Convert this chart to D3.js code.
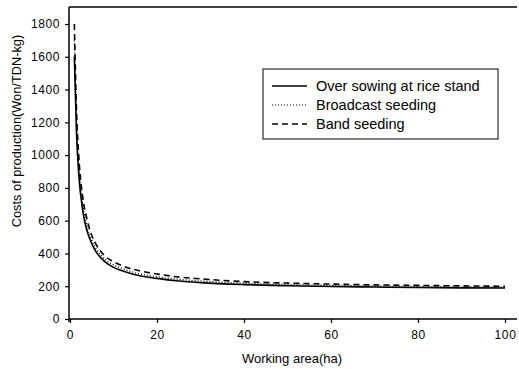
<!DOCTYPE html>
<html>
<head>
<meta charset="utf-8">
<script src="https://cdn.jsdelivr.net/npm/d3@7"></script>
<style>
  body { margin: 0; background: #fff; }
  text { font-family: "Liberation Sans", Arial, sans-serif; fill: #000; }
</style>
</head>
<body>
<div id="chart"></div>
<script>
// Values
const area = [1, 1.5, 2, 3, 4, 5, 6, 8, 10, 12, 15, 20, 25, 30, 40, 50, 60, 70, 80, 90, 100];
const overSowing = [1600, 1130, 890, 650, 530, 460, 410, 350, 315, 295, 270, 248, 232, 222, 210, 203, 198, 195, 192, 190, 189];
const broadcast  = [1700, 1200, 940, 690, 560, 480, 430, 365, 330, 308, 282, 258, 242, 232, 218, 210, 205, 201, 198, 196, 195];
const band       = [1800, 1270, 1000, 730, 600, 510, 455, 385, 350, 325, 300, 275, 256, 245, 228, 219, 213, 208, 205, 202, 200];
const seriesNames = ['Over sowing at rice stand', 'Broadcast seeding', 'Band seeding'];
const dashes = [null, '1,2', '6,4'];
const xTicks = [0, 20, 40, 60, 80, 100];
const yTicks = [0, 200, 400, 600, 800, 1000, 1200, 1400, 1600, 1800];

const width = 519, height = 369;
const svg = d3.select('#chart').append('svg')
  .attr('width', width).attr('height', height);

const x = d3.scaleLinear().domain([0, 100]).range([70, 505]);
const y = d3.scaleLinear().domain([0, 1800]).range([319, 24]);
const plotTop = 7, plotLeft = 69;

// frame top line
svg.append('line')
  .attr('x1', plotLeft).attr('x2', 517)
  .attr('y1', plotTop).attr('y2', plotTop)
  .attr('stroke', '#000').attr('stroke-width', 1.5);

// x axis
const gx = svg.append('g')
  .attr('transform', `translate(0,${y(0)})`)
  .call(d3.axisBottom(x).tickValues(xTicks).tickFormat(d3.format('d')).tickSize(4).tickPadding(7));
gx.select('.domain').attr('d', `M${plotLeft},0H517`).attr('stroke-width', 1.5);
gx.selectAll('.tick line').attr('stroke-width', 1.2);
gx.selectAll('text').attr('font-size', 12).attr('letter-spacing', 0.6);

// y axis
const gy = svg.append('g')
  .attr('transform', `translate(${plotLeft},0)`)
  .call(d3.axisLeft(y).tickValues(yTicks).tickFormat(d3.format('d')).tickSize(4).tickPadding(5));
gy.select('.domain').attr('d', `M0,${plotTop}V${y(0) + 3}`).attr('stroke-width', 1.5);
gy.selectAll('.tick line').attr('stroke-width', 1.2);
gy.selectAll('text').attr('font-size', 12).attr('letter-spacing', 0.6);

// axis titles
svg.append('text')
  .attr('x', 292).attr('y', 363)
  .attr('text-anchor', 'middle').attr('font-size', 13)
  .text('Working area(ha)');
svg.append('text')
  .attr('transform', 'translate(21,131) rotate(-90)')
  .attr('text-anchor', 'middle').attr('font-size', 12.8)
  .text('Costs of production(Won/TDN-kg)');

// curves
const line = d3.line()
  .x((d, i) => x(area[i]))
  .y(d => y(d))
  .curve(d3.curveMonotoneX);

[overSowing, broadcast, band].forEach((s, i) => {
  svg.append('path')
    .datum(s)
    .attr('d', line)
    .attr('fill', 'none')
    .attr('stroke', '#000')
    .attr('stroke-width', i === 1 ? 1.3 : 1.6)
    .attr('stroke-dasharray', dashes[i]);
});

// legend
const lg = svg.append('g');
lg.append('rect')
  .attr('x', 263).attr('y', 69).attr('width', 235).attr('height', 70)
  .attr('fill', '#fff').attr('stroke', '#000').attr('stroke-width', 1);
seriesNames.forEach((name, i) => {
  const yy = 86 + i * 19;
  lg.append('line')
    .attr('x1', 272).attr('x2', 307)
    .attr('y1', yy).attr('y2', yy)
    .attr('stroke', '#000')
    .attr('stroke-width', i === 1 ? 1 : 1.4)
    .attr('stroke-dasharray', dashes[i]);
  lg.append('text')
    .attr('x', 316).attr('y', yy + 5)
    .attr('font-size', 14.5)
    .text(name);
});
</script>
</body>
</html>
